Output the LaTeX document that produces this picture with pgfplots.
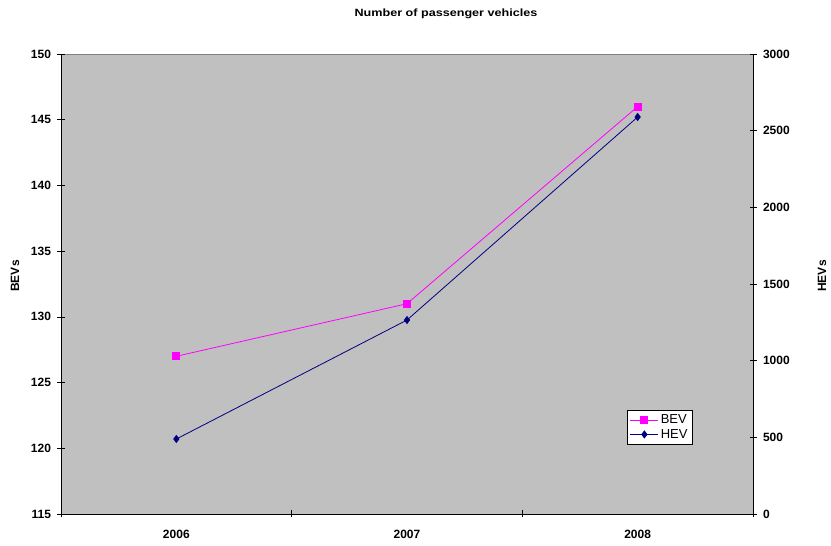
\documentclass[border=0pt]{standalone}
\usepackage{pgfplots}
\pgfplotsset{compat=1.18}
\usepackage{fontspec}
\setmainfont{Liberation Sans}
\newfontfamily\titlefont{Liberation Sans}[FakeStretch=1.2]
\definecolor{plotbg}{HTML}{C0C0C0}
\definecolor{bevcol}{HTML}{FF00FF}
\definecolor{hevcol}{HTML}{000080}
\begin{document}
\begin{tikzpicture}[x=1pt,y=1pt]
\useasboundingbox (0,0) rectangle (831,546);
\pgfplotsset{
  common/.style={
    scale only axis, width=692pt, height=460pt,
    at={(61pt,32pt)}, anchor=south west,
    xmin=-0.5, xmax=2.5,
    tick align=center, major tick length=7pt,
    tick style={black, line width=0.6pt},
    ticklabel style={font=\fontsize{12}{14}\selectfont\bfseries},
    /pgf/number format/assume math mode=true,
    /pgf/number format/1000 sep={},
  }
}
\begin{axis}[common,
  axis background/.style={fill=plotbg, draw=gray, line width=0.6pt},
  axis x line*=bottom, axis y line*=left,
  axis line style={black, line width=0.8pt, -},
  ymin=115, ymax=150, ytick={115,120,...,150},
  xtick={-0.5,0.5,1.5,2.5}, xticklabels={},
  extra x ticks={0,1,2}, extra x tick labels={2006,2007,2008},
  extra x tick style={major tick length=0pt, xticklabel style={yshift=-13pt}},
  yticklabel style={xshift=-3pt},
  legend style={at={(0.913,0.15)}, anchor=south east, draw=black, fill=white,
    font=\fontsize{13}{15}\selectfont, row sep=0pt, inner sep=3pt,
    line width=0.6pt},
  legend cell align=left,
  legend image code/.code={\draw[mark repeat=2,mark phase=2,#1] plot coordinates {(0pt,0pt)(14pt,0pt)(28pt,0pt)};},
]
\addplot[color=bevcol, line width=0.8pt, mark=square*, mark size=3.5pt,
  mark options={fill=bevcol, draw=bevcol}] coordinates {(0,127) (1,131) (2,146)};
\addlegendentry{BEV}
\addlegendimage{color=hevcol, line width=0.8pt, mark=diamond*, mark size=3.5pt,
  mark options={fill=hevcol, draw=hevcol}}
\addlegendentry{HEV}
\end{axis}
\begin{axis}[common,
  axis x line=none, axis y line*=right,
  axis line style={black, line width=0.8pt, -},
  ymin=0, ymax=3000, ytick={0,500,...,3000},
  yticklabel style={xshift=3pt},
]
\addplot[color=hevcol, line width=0.8pt, mark=diamond*, mark size=3.5pt,
  mark options={fill=hevcol, draw=hevcol}] coordinates {(0,489) (1,1265) (2,2589)};
\end{axis}
\node[font=\titlefont\fontsize{10.5}{12}\selectfont\bfseries] at (446,532.5) {Number of passenger vehicles};
\node[rotate=90, font=\fontsize{12}{14}\selectfont\bfseries] at (15,270) {BEVs};
\node[rotate=90, font=\fontsize{12}{14}\selectfont\bfseries] at (822,270) {HEVs};
\end{tikzpicture}
\end{document}
